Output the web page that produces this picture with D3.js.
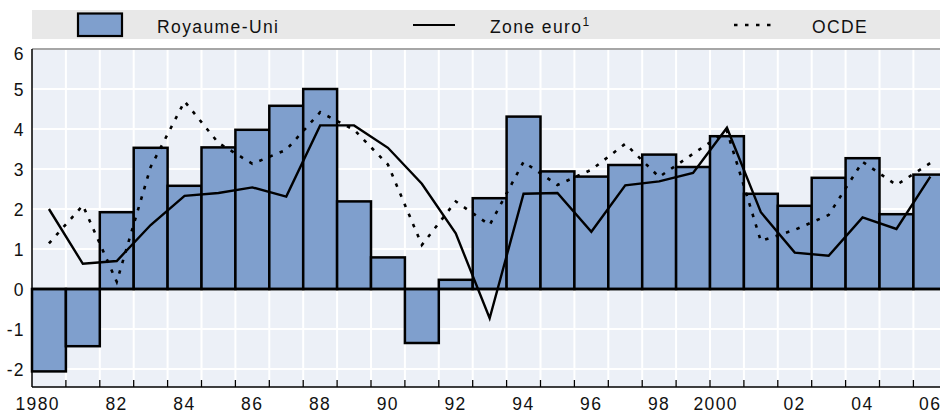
<!DOCTYPE html>
<html>
<head>
<meta charset="utf-8">
<script src="https://cdn.jsdelivr.net/npm/d3@7"></script>
<style>
  body { margin: 0; background: #fff; }
  text { font-family: "Liberation Sans Narrow", "Liberation Sans", sans-serif; font-size: 17.5px; letter-spacing: 1.4px; fill: #111; }
</style>
</head>
<body>
<script>
// annual values, 1980-2006
let years = d3.range(1980, 2007);
let royaumeUni = [-2.06, -1.43, 1.92, 3.53, 2.58, 3.54, 3.98, 4.58, 5.0, 2.19, 0.79, -1.35, 0.23,
  2.27, 4.31, 2.94, 2.81, 3.1, 3.36, 3.05, 3.82, 2.38, 2.08, 2.78, 3.27, 1.87, 2.86];
let zoneEuro = [2.0, 0.63, 0.7, 1.6, 2.33, 2.4, 2.54, 2.31, 4.09, 4.09, 3.53, 2.63, 1.39,
  -0.73, 2.38, 2.4, 1.43, 2.59, 2.69, 2.9, 4.03, 1.92, 0.91, 0.83, 1.79, 1.5, 2.81];
let ocde = [1.14, 2.09, 0.18, 3.05, 4.69, 3.65, 3.13, 3.48, 4.42, 3.98, 3.11, 1.1, 2.19,
  1.6, 3.18, 2.6, 2.98, 3.63, 2.8, 3.38, 3.95, 1.2, 1.48, 1.85, 3.18, 2.6, 3.15];
let yTicks = [-2, -1, 0, 1, 2, 3, 4, 5, 6];
let xLabels = years.map(function(d) {
  return (d % 2 == 0) ? ((d == 1980 || d == 2000) ? String(d) : String(d).slice(2)) : "";
});

let W = 940, H = 415;
let margin = { top: 49, left: 32, bottom: 28 };
let bandW = 33.9;
let plotBottom = H - margin.bottom;

let svg = d3.select('body').append('svg').attr('width', W).attr('height', H);

let x = d3.scaleBand().domain(years).range([margin.left, margin.left + years.length * bandW]).padding(0);
let y = d3.scaleLinear().domain([-2.45, 6]).range([plotBottom, margin.top]);

let barFill = "#7f9fcd";

// legend band
let leg = svg.append("g").attr("class", "legend");
leg.append("rect").attr("x", 32).attr("y", 10).attr("width", W - 32).attr("height", 29).attr("fill", "#e8e8e8");
leg.append("rect").attr("x", 78).attr("y", 13.5).attr("width", 44).attr("height", 22.5)
  .attr("fill", barFill).attr("stroke", "#000").attr("stroke-width", 2.2);
leg.append("text").attr("x", 157).attr("y", 33).text("Royaume-Uni");
leg.append("line").attr("x1", 413).attr("x2", 455).attr("y1", 25).attr("y2", 25)
  .attr("stroke", "#000").attr("stroke-width", 2.2);
let ze = leg.append("text").attr("x", 490).attr("y", 33).text("Zone euro");
ze.append("tspan").attr("dy", -7).style("font-size", "12px").text("1");
leg.append("line").attr("x1", 734).attr("x2", 774).attr("y1", 25).attr("y2", 25)
  .attr("stroke", "#000").attr("stroke-width", 2.6).attr("stroke-dasharray", "3.5,7.5");
leg.append("text").attr("x", 812).attr("y", 33).text("OCDE");

// plot background
let plot = svg.append("g").attr("class", "plot");
plot.append("rect").attr("x", margin.left).attr("y", margin.top)
  .attr("width", W - margin.left).attr("height", plotBottom - margin.top).attr("fill", "#ecf0f7");

// grid
plot.selectAll(".hgrid").data(yTicks).enter().append("line").attr("class", "hgrid")
  .attr("x1", margin.left).attr("x2", W).attr("y1", function(d) { return y(d); }).attr("y2", function(d) { return y(d); })
  .attr("stroke", "#fff").attr("stroke-width", 2);
plot.selectAll(".vgrid").data(years.slice(1)).enter().append("line").attr("class", "vgrid")
  .attr("x1", function(d) { return x(d); }).attr("x2", function(d) { return x(d); })
  .attr("y1", margin.top).attr("y2", plotBottom)
  .attr("stroke", "#fff").attr("stroke-width", 2);

// top border
plot.append("line").attr("x1", margin.left).attr("x2", W).attr("y1", margin.top).attr("y2", margin.top)
  .attr("stroke", "#888").attr("stroke-width", 1.5);

// bars
plot.selectAll(".bar").data(royaumeUni).enter().append("rect").attr("class", "bar")
  .attr("x", function(d, i) { return x(years[i]); })
  .attr("width", x.bandwidth())
  .attr("y", function(d) { return y(Math.max(0, d)); })
  .attr("height", function(d) { return Math.abs(y(d) - y(0)); })
  .attr("fill", barFill).attr("stroke", "#000").attr("stroke-width", 2.5);

// zero line
plot.append("line").attr("x1", margin.left).attr("x2", W).attr("y1", y(0)).attr("y2", y(0))
  .attr("stroke", "#000").attr("stroke-width", 2.6);

// lines
let lineGen = d3.line()
  .x(function(d, i) { return x(years[i]) + x.bandwidth() / 2; })
  .y(function(d) { return y(d); });

plot.append("path").datum(ocde).attr("d", lineGen).attr("fill", "none")
  .attr("stroke", "#000").attr("stroke-width", 2.6).attr("stroke-dasharray", "3.5,7.5");
plot.append("path").datum(zoneEuro).attr("d", lineGen).attr("fill", "none")
  .attr("stroke", "#000").attr("stroke-width", 2.4).attr("stroke-linejoin", "miter");

// axes
plot.append("line").attr("x1", margin.left).attr("x2", margin.left).attr("y1", margin.top).attr("y2", plotBottom)
  .attr("stroke", "#000").attr("stroke-width", 1.5);
plot.append("line").attr("x1", margin.left).attr("x2", W).attr("y1", plotBottom).attr("y2", plotBottom)
  .attr("stroke", "#000").attr("stroke-width", 1.5);
plot.selectAll(".xtick").data(years.slice(1)).enter().append("line").attr("class", "xtick")
  .attr("x1", function(d) { return x(d); }).attr("x2", function(d) { return x(d); })
  .attr("y1", plotBottom - 7).attr("y2", plotBottom)
  .attr("stroke", "#000").attr("stroke-width", 1.3);

// x labels, right aligned a little past the band centre
svg.selectAll(".xlab").data(years).enter().append("text").attr("class", "xlab")
  .attr("x", function(d) { return x(d) + x.bandwidth() / 2 + 11; })
  .attr("y", 410)
  .attr("text-anchor", "end")
  .text(function(d, i) { return xLabels[i]; });

// y labels
svg.selectAll(".ylab").data(yTicks).enter().append("text").attr("class", "ylab")
  .attr("x", 25)
  .attr("y", function(d) { return Math.max(y(d), 53) + 6.5; })
  .attr("text-anchor", "end")
  .text(function(d) { return d; });
</script>
</body>
</html>
